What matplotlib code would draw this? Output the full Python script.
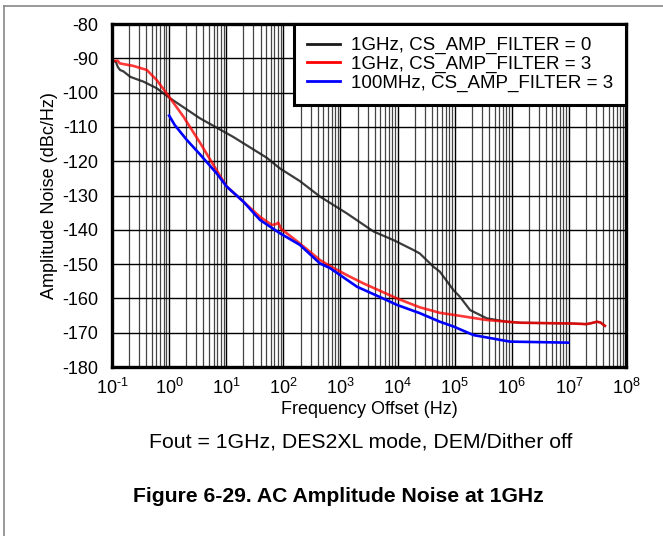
import matplotlib
matplotlib.use('Agg')
import matplotlib.pyplot as plt
import numpy as np
from matplotlib.lines import Line2D
from matplotlib.ticker import LogLocator, FixedLocator, NullFormatter, FuncFormatter

plt.rcParams['font.family'] = ['Liberation Sans', 'DejaVu Sans']
plt.rcParams['axes.unicode_minus'] = False
plt.rcParams['mathtext.fontset'] = 'custom'
plt.rcParams['mathtext.rm'] = 'Liberation Sans'
plt.rcParams['mathtext.it'] = 'Liberation Sans:italic'

# 1GHz, CS_AMP_FILTER = 0
freq_f0 = [0.1, 0.117, 0.126, 0.138, 0.158, 0.209, 0.282, 0.355, 0.603, 1.05,
           3.47, 13.2, 51.3, 87, 195, 437, 1290, 3800, 8500, 19000,
           24500, 42700, 55000, 95500, 123000, 186000, 363000, 813000, 1.41e6, 1.05e7,
           2.04e7, 2.5e7, 3.09e7, 3.55e7, 4.27e7]
noise_f0 = [-90.7, -91.0, -92.5, -93.4, -93.8, -95.4, -96.2, -96.8, -98.7, -101.7,
            -107.5, -112.9, -119.0, -122.1, -125.8, -130.3, -135.2, -140.5, -143.0, -145.9,
            -146.9, -150.8, -152.2, -157.6, -159.5, -163.4, -165.8, -166.8, -167.1, -167.3,
            -167.5, -167.2, -166.8, -167.0, -168.0]

# 1GHz, CS_AMP_FILTER = 3
freq_f3 = [0.1, 0.126, 0.138, 0.234, 0.407, 0.603, 0.741, 1.05, 1.78,
           3.47, 6.76, 10.2, 20.0, 38.9, 63.1, 75.9, 81.3, 91.2, 195,
           437, 661, 1290, 2510, 9770, 24500, 55000, 95500, 363000, 1.41e6,
           1.05e7, 2.04e7, 2.5e7, 3.09e7, 3.55e7, 4.27e7]
noise_f3 = [-90.8, -90.7, -91.5, -92.2, -93.4, -96.3, -98.3, -101.7, -107.0,
            -114.6, -122.6, -127.4, -131.8, -136.2, -138.6, -138.3, -137.9, -139.7, -144.0,
            -148.8, -150.6, -153.2, -155.6, -160.0, -162.6, -164.2, -164.8, -166.3, -167.1,
            -167.3, -167.5, -167.2, -166.8, -167.0, -168.0]

# 100MHz, CS_AMP_FILTER = 3
freq_100m = [1.0, 1.26, 2.04, 3.47, 6.76, 10.2, 20.0, 38.9, 87, 195,
             437, 661, 1950, 6460, 9770, 24500, 55000, 95500, 214000, 933000,
             9.77e6]
noise_100m = [-106.7, -109.5, -113.8, -118.0, -123.5, -127.4, -131.8, -137.1, -141.0, -144.4,
              -149.8, -151.2, -156.6, -160.5, -161.9, -164.3, -166.8, -168.2, -170.7, -172.6,
              -172.9]

labels = ['1GHz, CS_AMP_FILTER = 0', '1GHz, CS_AMP_FILTER = 3', '100MHz, CS_AMP_FILTER = 3']
y_ticks = list(range(-180, -79, 10))


def decade_label(v, pos):
    e = int(round(np.log10(v)))
    return r'$10^{\text{%d}}$' % e


fig = plt.figure(figsize=(6.63, 5.36), dpi=100)
ax = fig.add_axes([112 / 663, 1 - 367 / 536, 514 / 663, 343 / 536])

ax.plot(freq_f0, noise_f0, color='#1a1a1a', alpha=0.85, lw=1.6, label=labels[0], zorder=3)
ax.plot(freq_f3, noise_f3, color='red', alpha=0.78, lw=1.9, label=labels[1], zorder=4)
ax.plot(freq_100m, noise_100m, color='blue', lw=1.9, label=labels[2], zorder=5)

ax.set_xscale('log')
ax.set_xlim(0.1, 1e8)
ax.set_ylim(-180, -80)
ax.xaxis.set_major_locator(LogLocator(base=10, numticks=20))
ax.xaxis.set_major_formatter(FuncFormatter(decade_label))
ax.xaxis.set_minor_locator(LogLocator(base=10, subs=np.arange(2, 10), numticks=20))
ax.xaxis.set_minor_formatter(NullFormatter())
ax.yaxis.set_major_locator(FixedLocator(y_ticks))

ax.grid(True, which='major', color='black', lw=1.0)
ax.grid(True, which='minor', axis='x', color='#444444', lw=0.9)
ax.tick_params(which='both', length=0, labelsize=13)
ax.tick_params(axis='x', pad=8)
ax.tick_params(axis='y', pad=10)

for s in ax.spines.values():
    s.set_linewidth(2.4)
    s.set_zorder(6)

ax.set_xlabel('Frequency Offset (Hz)', fontsize=13, labelpad=2)
ax.set_ylabel('Amplitude Noise (dBc/Hz)', fontsize=13, labelpad=3)

leg = ax.legend(loc='upper right', borderaxespad=0, fontsize=13.5, handlelength=1.75,
                handletextpad=0.6, labelspacing=0.07, borderpad=0.7,
                fancybox=False, framealpha=1, edgecolor='black')
leg.get_frame().set_linewidth(2.2)
for h in leg.get_lines():
    h.set_alpha(1)
    h.set_linewidth(2)
leg.set_zorder(7)

fig.text(361 / 663, 1 - 442 / 536, 'Fout = 1GHz, DES2XL mode, DEM/Dither off',
         ha='center', va='center', fontsize=15.3)
fig.text(338 / 663, 1 - 497 / 536, 'Figure 6-29. AC Amplitude Noise at 1GHz',
         ha='center', va='center', fontsize=15.2, fontweight='bold')

# gray frame lines at top and left edge
fig.add_artist(Line2D([4 / 663, 1], [1 - 6 / 536, 1 - 6 / 536], color='#888888', lw=1.2))
fig.add_artist(Line2D([4 / 663, 4 / 663], [0, 1 - 6 / 536], color='#888888', lw=1.2))

fig.savefig('out.png', dpi=100)
